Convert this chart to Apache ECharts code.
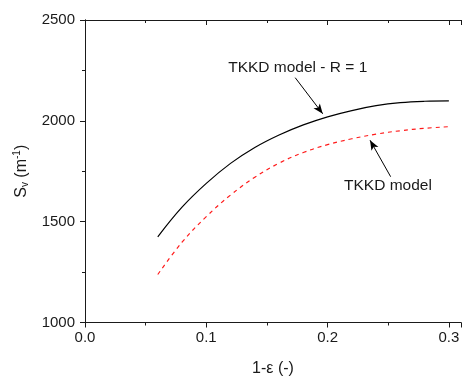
<!DOCTYPE html>
<html>
<head>
<meta charset="utf-8">
<script src="https://cdn.jsdelivr.net/npm/echarts@6/dist/echarts.min.js"></script>
<style>
  html, body { margin: 0; padding: 0; background: #fff; }
  #chart { width: 462px; height: 376px; }
</style>
</head>
<body>
<div id="chart"></div>
<script>
// 1-eps values along the curves
const porosity = [0.06, 0.08, 0.10, 0.12, 0.14, 0.16, 0.18, 0.20, 0.22, 0.24, 0.26, 0.28, 0.30];
// S_v for TKKD model with R = 1 (solid black)
const svR1 = [1425, 1572, 1690, 1789, 1868, 1930, 1980, 2020, 2051, 2075, 2090, 2097, 2099];
// S_v for TKKD model (dashed red)
const svTkkd = [1238, 1398, 1525, 1632, 1720, 1790, 1843, 1882, 1911, 1934, 1951, 1963, 1971];

// annotations: [text, x, y] in data units
const label1 = ['TKKD model - R = 1', 0.1754, 2263];
const arrow1 = [[0.1733, 2214], [0.196, 2035]];
const label2 = ['TKKD model', 0.2498, 1677];
const arrow2 = [[0.252, 1723], [0.235, 1904]];

const font = 'Liberation Sans, Arial, sans-serif';
const ink = '#1a1a1a';

const zip = (xs, ys) => xs.map((x, i) => [x, ys[i]]);

const axisBase = {
  type: 'value',
  axisLine: { show: true, lineStyle: { color: ink, width: 1 } },
  splitLine: { show: false },
  minorSplitLine: { show: false },
};

const option = {
  animation: false,
  backgroundColor: '#fff',
  grid: { left: 85, right: 1, top: 20, bottom: 53.5, containLabel: false, outerBoundsMode: 'none' },
  xAxis: [
    {
      ...axisBase,
      min: 0, max: 0.31, interval: 0.1,
      position: 'bottom',
      name: '1-ε (-)',
      nameLocation: 'middle',
      nameGap: 38,
      nameTextStyle: { color: ink, fontFamily: font, fontSize: 16 },
      axisTick: { show: true, inside: false, length: 5, lineStyle: { color: ink } },
      minorTick: { show: true, splitNumber: 2, length: 3, lineStyle: { color: ink } },
      axisLabel: {
        color: ink, fontFamily: font, fontSize: 15, margin: 8,
        showMaxLabel: false,
        formatter: v => v.toFixed(1)
      }
    },
    {
      ...axisBase,
      min: 0, max: 0.31, interval: 0.1,
      position: 'top',
      axisTick: { show: true, inside: true, length: 5, lineStyle: { color: ink } },
      minorTick: { show: true, splitNumber: 2, length: 3, lineStyle: { color: ink } },
      axisLabel: { show: false }
    }
  ],
  yAxis: [
    {
      ...axisBase,
      min: 1000, max: 2500, interval: 500,
      position: 'left',
      name: '{b|S}{sub|v}{b| (m}{sup|-1}{b|)}',
      nameLocation: 'middle',
      nameRotate: 90,
      nameGap: 46,
      nameTextStyle: {
        color: ink, fontFamily: font, fontSize: 16,
        rich: {
          b: { color: ink, fontFamily: font, fontSize: 16 },
          sub: { color: ink, fontFamily: font, fontSize: 10, padding: [8, 0, 0, 0] },
          sup: { color: ink, fontFamily: font, fontSize: 10, padding: [0, 0, 8, 0] }
        }
      },
      axisTick: { show: true, inside: false, length: 5, lineStyle: { color: ink } },
      minorTick: { show: true, splitNumber: 2, length: 3, lineStyle: { color: ink } },
      axisLabel: { color: ink, fontFamily: font, fontSize: 15, margin: 10, formatter: v => String(v) }
    },
    {
      ...axisBase,
      min: 1000, max: 2500, interval: 500,
      position: 'right',
      axisTick: { show: true, inside: true, length: 5, lineStyle: { color: ink } },
      minorTick: { show: true, splitNumber: 2, length: 3, lineStyle: { color: ink } },
      axisLabel: { show: false }
    }
  ],
  series: [
    {
      name: 'TKKD model - R = 1',
      type: 'line',
      data: zip(porosity, svR1),
      smooth: 0.4,
      showSymbol: false,
      lineStyle: { color: '#000', width: 1.2 },
      markLine: {
        silent: true,
        symbol: ['none', 'arrow'],
        symbolSize: [6, 10],
        label: { show: false },
        lineStyle: { color: '#000', width: 1, type: 'solid' },
        data: [
          [{ coord: arrow1[0] }, { coord: arrow1[1] }],
          [{ coord: arrow2[0] }, { coord: arrow2[1] }]
        ]
      },
      markPoint: {
        silent: true,
        symbol: 'circle',
        symbolSize: 0,
        label: {
          show: true, position: 'inside', color: ink,
          fontFamily: font, fontSize: 15.5,
          formatter: p => p.name
        },
        data: [
          { name: label1[0], coord: [label1[1], label1[2]] },
          { name: label2[0], coord: [label2[1], label2[2]] }
        ]
      }
    },
    {
      name: 'TKKD model',
      type: 'line',
      data: zip(porosity, svTkkd),
      smooth: 0.4,
      showSymbol: false,
      lineStyle: { color: '#ff1a1a', width: 1.2, type: [4, 4] }
    }
  ]
};

const chart = echarts.init(document.getElementById('chart'), null, { renderer: 'canvas' });
chart.setOption(option);
</script>
</body>
</html>
